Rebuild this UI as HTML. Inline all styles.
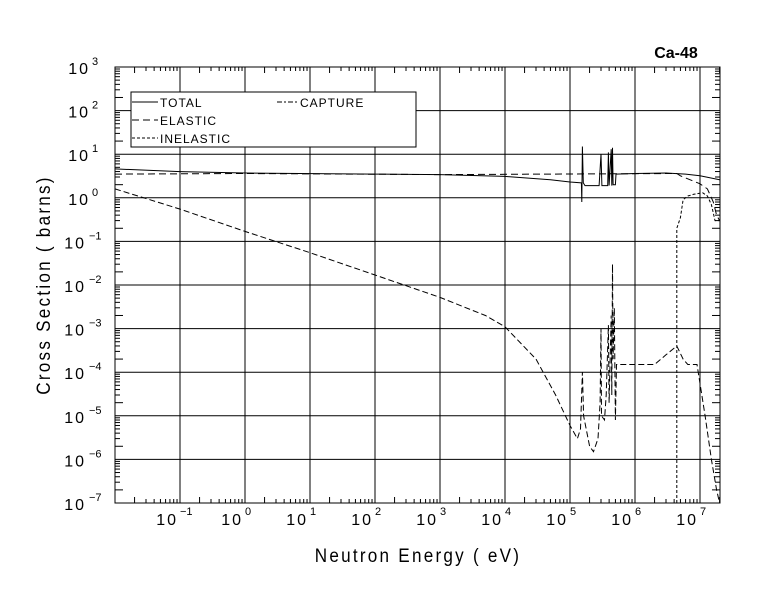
<!DOCTYPE html>
<html><head><meta charset="utf-8"><style>
body{margin:0;background:#fff;}
svg text{font-family:"Liberation Sans",sans-serif;fill:#000;}
</style></head><body>
<svg id="s" width="780" height="589" viewBox="0 0 780 589" xmlns="http://www.w3.org/2000/svg">
<rect width="780" height="589" fill="#fff"/>
<text x="676" y="58" font-size="16" font-weight="bold" text-anchor="middle">Ca-48</text>
<text x="418" y="562" font-size="19" text-anchor="middle" letter-spacing="2.5" transform="translate(418 0) scale(0.9 1) translate(-418 0)">Neutron Energy ( eV)</text>
<text transform="translate(50 285) rotate(-90) scale(0.9 1)" font-size="19" text-anchor="middle" letter-spacing="2.5">Cross Section ( barns)</text>
<g id="g"></g>
<rect x="131" y="92" width="285" height="55" fill="#fff" stroke="#000" stroke-width="1"/>
<line x1="132" y1="102" x2="158" y2="102" stroke="#000"/>
<text x="160" y="107" font-size="12" letter-spacing="1">TOTAL</text>
<line x1="132" y1="120" x2="158" y2="120" stroke="#000" stroke-dasharray="7,4"/>
<text x="160" y="125" font-size="12" letter-spacing="1">ELASTIC</text>
<line x1="132" y1="138" x2="158" y2="138" stroke="#000" stroke-dasharray="3,2"/>
<text x="160" y="143" font-size="12" letter-spacing="1">INELASTIC</text>
<line x1="277" y1="102" x2="298" y2="102" stroke="#000" stroke-dasharray="5,2,2,2"/>
<text x="300" y="107" font-size="12" letter-spacing="1">CAPTURE</text>
</svg>
<script>
var L=115,R=720,T=67,B=503,XD=65,YD=43.6;
function X(e){return L+(Math.log10(e)+2)*XD;}
function Y(v){return B-(Math.log10(v)+7)*YD;}
var g=document.getElementById('g'),h='';
function ln(a,b,c,d,w){h+='<line x1="'+a+'" y1="'+b+'" x2="'+c+'" y2="'+d+'" stroke="#000" stroke-width="'+(w||1)+'"/>';}
// grid
for(var k=-1;k<=7;k++){var x=X(Math.pow(10,k));ln(x,T,x,B);}
for(var k=-6;k<=2;k++){var y=Y(Math.pow(10,k));ln(L,y,R,y);}
// ticks
for(var k=-2;k<=7;k++)for(var m=2;m<=9;m++){var e=m*Math.pow(10,k);if(e>2e7)continue;var x=X(e);var l=m<=2?6:4;ln(x,B,x,B-l);ln(x,T,x,T+l);}
for(var k=-7;k<=2;k++)for(var m=2;m<=9;m++){var y=Y(m*Math.pow(10,k));var l=m<=2?8:5;ln(L,y,L+l,y);ln(R,y,R-l,y);}
h+='<rect x="'+L+'" y="'+T+'" width="'+(R-L)+'" height="'+(B-T)+'" fill="none" stroke="#000"/>';
// tick labels
for(var k=-1;k<=7;k++){var x=X(Math.pow(10,k));h+='<text x="'+(x-2)+'" y="525" font-size="16" text-anchor="end" letter-spacing="2">10</text><text x="'+x+'" y="515" font-size="11">'+(k<0?'\u2212'+(-k):k)+'</text>';}
for(var k=-7;k<=3;k++){var y=Y(Math.pow(10,k));h+='<text x="'+(k<0?86:90)+'" y="'+(y+7)+'" font-size="16" text-anchor="end" letter-spacing="2">10</text><text x="'+(k<0?89:92)+'" y="'+(y-2)+'" font-size="11">'+(k<0?'\u2212'+(-k):k)+'</text>';}
function path(d,dash){var s='';for(var i=0;i<d.length;i++){var x=X(d[i][0]),y=Y(d[i][1]);s+=(i?'L':'M')+x.toFixed(1)+' '+y.toFixed(1);}h+='<path d="'+s+'" fill="none" stroke="#000" stroke-width="1"'+(dash?' stroke-dasharray="'+dash+'"':'')+'/>';}
var total=[[1e-2,4.6],[1e-1,4.0],[1,3.7],[1e2,3.5],[1e3,3.4],[1e4,3.1],[5e4,2.6],[1e5,2.3],[1.5e5,2.2],[1.52e5,0.8],[1.55e5,15],[1.6e5,2.2],[1.7e5,1.9],[2.8e5,1.9],[3.0e5,10],[3.1e5,1.9],[3.8e5,1.9],[3.9e5,11],[4.0e5,1.9],[4.3e5,13],[4.4e5,1.9],[4.5e5,14],[4.6e5,2],[5.0e5,2],[5.1e5,3.5],[1e6,3.6],[3e6,3.7],[6e6,3.5],[1e7,3.2],[2e7,2.6]];
path(total);
var el=[[1e-2,3.5],[1,3.6],[1e3,3.4],[4.4e6,3.6],[5e6,3.2],[7e6,2.6],[1e7,2.1],[1.3e7,1.6],[1.6e7,0.8],[1.8e7,0.4],[2e7,0.3]];
path(el,'7,4');
var inel=[[4.4e6,1e-7],[4.4e6,0.2],[5e6,0.35],[5.5e6,0.9],[6.5e6,1.1],[8e6,1.2],[1.1e7,1.3],[1.3e7,1.1],[1.5e7,0.7],[1.7e7,0.3],[2e7,0.3]];
path(inel,'3,2');
var cap=[[1e-2,1.6],[1e-1,0.55],[1,0.17],[1e1,0.055],[1e2,0.017],[1e3,0.0052],[5e3,0.002],[1e4,0.0011],[3e4,2e-4],[6e4,3e-5],[1e5,6e-6],[1.3e5,3e-6],[1.45e5,5e-6],[1.55e5,1e-4],[1.62e5,1e-5],[2e5,2e-6],[2.3e5,1.5e-6],[2.7e5,3e-6],[2.9e5,2e-5],[3.0e5,1e-3],[3.05e5,1e-5],[3.4e5,8e-6],[3.6e5,3e-5],[3.9e5,1.2e-3],[4.0e5,2e-5],[4.3e5,2e-3],[4.4e5,3e-5],[4.5e5,3e-2],[4.6e5,2e-4],[4.8e5,3e-3],[5.0e5,8e-6],[5.2e5,1.5e-4],[1e6,1.5e-4],[2e6,1.5e-4],[3e6,2.5e-4],[4.4e6,4e-4],[5.5e6,2e-4],[6.5e6,1.5e-4],[9e6,1.5e-4],[1.2e7,1e-5],[1.5e7,1e-6],[1.8e7,2e-7],[2e7,1e-7]];
path(cap,'6,3');
g.innerHTML=h;
</script>
</body></html>
